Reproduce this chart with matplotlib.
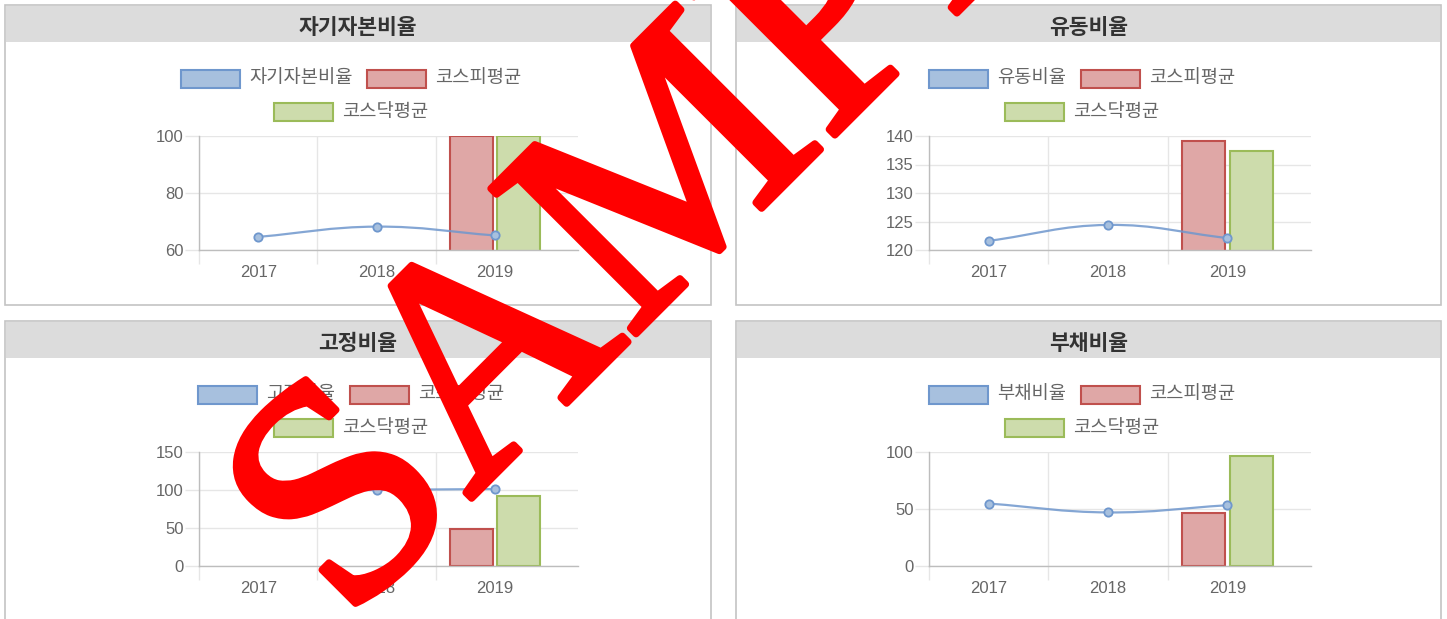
import matplotlib
matplotlib.use('Agg')
import numpy as np
import matplotlib.pyplot as plt
import matplotlib.patheffects as pe
from matplotlib.patches import Rectangle, PathPatch
from matplotlib.path import Path

plt.rcParams['font.family'] = ['Noto Sans CJK KR', 'DejaVu Sans']

# ---- data ----
years = ['2017', '2018', '2019']
kospi_label = '코스피평균'
kosdaq_label = '코스닥평균'

titles = ['자기자본비율', '유동비율', '고정비율', '부채비율']

equity_ratio = [64.6, 68.2, 65.1]
equity_kospi = [np.nan, np.nan, 100.0]
equity_kosdaq = [np.nan, np.nan, 100.0]

current_ratio = [121.6, 124.4, 122.1]
current_kospi = [np.nan, np.nan, 139.1]
current_kosdaq = [np.nan, np.nan, 137.3]

fixed_ratio = [98.0, 100.0, 101.3]
fixed_kospi = [np.nan, np.nan, 49.1]
fixed_kosdaq = [np.nan, np.nan, 92.6]

debt_ratio = [54.8, 47.0, 53.3]
debt_kospi = [np.nan, np.nan, 46.4]
debt_kosdaq = [np.nan, np.nan, 96.2]

y_ticks = [[60, 80, 100], [120, 125, 130, 135, 140], [0, 50, 100, 150], [0, 50, 100]]

# ---- styling ----
W, H = 1447, 619
BLUE, BLUE_FILL = '#6f97cd', '#a7c0de'
RED, RED_FILL = '#c0504d', '#dfa7a6'
GREEN, GREEN_FILL = '#9bbb59', '#cddcac'
GRID = '#e6e6e6'
AXIS = '#bdbdbd'
TXT = '#666666'


def fx(px):
    return px / W


def fy(py):
    return 1 - py / H


def smooth_line(ax, xs, ys, color, tension=0.4):
    # bezier through the points, control points like chart.js splineCurve
    pts = ax.transData.transform(np.column_stack([xs, ys]))
    n = len(pts)
    ctrl = []
    for i in range(n):
        prev, cur, nxt = pts[max(i - 1, 0)], pts[i], pts[min(i + 1, n - 1)]
        d01 = np.hypot(*(cur - prev))
        d12 = np.hypot(*(nxt - cur))
        tot = d01 + d12
        s01 = d01 / tot if tot else 0
        s12 = d12 / tot if tot else 0
        ctrl.append((cur - tension * s01 * (nxt - prev), cur + tension * s12 * (nxt - prev)))
    verts = [pts[0]]
    codes = [Path.MOVETO]
    for i in range(1, n):
        verts += [ctrl[i - 1][1], ctrl[i][0], pts[i]]
        codes += [Path.CURVE4] * 3
    verts = ax.transData.inverted().transform(np.array(verts))
    ax.add_patch(PathPatch(Path(verts, codes), fill=False, edgecolor=color,
                           lw=1.6, alpha=0.85, zorder=4))


fig = plt.figure(figsize=(W / 100, H / 100), dpi=100)
renderer = fig.canvas.get_renderer()

panels = [
    dict(x0=5, x1=711, y0=5, y1=305, ratio=equity_ratio, kospi=equity_kospi, kosdaq=equity_kosdaq),
    dict(x0=736, x1=1441, y0=5, y1=305, ratio=current_ratio, kospi=current_kospi, kosdaq=current_kosdaq),
    dict(x0=5, x1=711, y0=321, y1=640, ratio=fixed_ratio, kospi=fixed_kospi, kosdaq=fixed_kosdaq),
    dict(x0=736, x1=1441, y0=321, y1=640, ratio=debt_ratio, kospi=debt_kospi, kosdaq=debt_kosdaq),
]


def draw_legend(cx, rows):
    for row_y, items in rows:
        texts = []
        for label, face, edge in items:
            t = fig.text(0, fy(row_y), label, fontsize=13.5, color=TXT, va='center', ha='left')
            texts.append(t)
        widths = [t.get_window_extent(renderer).width for t in texts]
        total = sum(60 + 8 + w for w in widths) + 14.5 * (len(items) - 1)
        x = cx - total / 2
        for (label, face, edge), t, w in zip(items, texts, widths):
            fig.patches.append(Rectangle((fx(x), fy(row_y + 9)), 59 / W, 18 / H,
                                         transform=fig.transFigure, facecolor=face,
                                         edgecolor=edge, lw=1.5, zorder=2))
            t.set_position((fx(x + 68), fy(row_y - 1)))
            x += 68 + w + 14.5


for i, p in enumerate(panels):
    x0, x1, y0, y1 = p['x0'], p['x1'], p['y0'], p['y1']
    # panel frame and grey header
    fig.patches.append(Rectangle((fx(x0), fy(y1)), (x1 - x0) / W, (y1 - y0) / H,
                                 transform=fig.transFigure, facecolor='white',
                                 edgecolor='#c4c4c4', lw=1.2, zorder=-2))
    fig.patches.append(Rectangle((fx(x0 + 1), fy(y0 + 37)), (x1 - x0 - 2) / W, 36 / H,
                                 transform=fig.transFigure, facecolor='#dcdcdc',
                                 edgecolor='none', zorder=-1))
    fig.text(fx((x0 + x1) / 2), fy(y0 + 22), titles[i], fontsize=15.5, fontweight='bold',
             color='#333333', ha='center', va='center')

    cx = x0 + 346
    draw_legend(cx, [(y0 + 74, [(titles[i], BLUE_FILL, BLUE), (kospi_label, RED_FILL, RED)]),
                     (y0 + 107, [(kosdaq_label, GREEN_FILL, GREEN)])])

    left = 199 if x0 < 700 else 929
    right = 578 if x0 < 700 else 1311
    top = y0 + 131
    bottom = y0 + 245
    ax = fig.add_axes([fx(left), fy(bottom), (right - left) / W, (bottom - top) / H])
    ax.set_facecolor('none')

    x = np.arange(len(years))
    ticks = y_ticks[i]
    ax.set_xlim(-0.5, 2.7)
    ax.set_ylim(ticks[0], ticks[-1])

    kospi = np.array(p['kospi'])
    kosdaq = np.array(p['kosdaq'])
    m1 = ~np.isnan(kospi)
    m2 = ~np.isnan(kosdaq)
    ax.bar(x[m1] - 0.2, kospi[m1], 0.36, color=RED_FILL, edgecolor=RED, lw=1.5, zorder=2)
    ax.bar(x[m2] + 0.2, kosdaq[m2], 0.36, color=GREEN_FILL, edgecolor=GREEN, lw=1.5, zorder=2)

    smooth_line(ax, x, p['ratio'], BLUE)
    ax.plot(x, p['ratio'], 'o', ms=6, mfc=BLUE_FILL, mec=BLUE, mew=1.3, zorder=5)

    # grid like chart.js
    ax.set_yticks(ticks)
    ax.set_yticklabels([str(t) for t in ticks])
    ax.set_xticks([-0.5, 0.5, 1.5])
    ax.set_xticklabels([])
    ax.set_xticks(x, minor=True)
    ax.set_xticklabels(years, minor=True)
    ax.grid(True, which='major', color=GRID, lw=1, zorder=0)
    ax.tick_params(axis='y', length=10, width=1, color=GRID, pad=1, labelsize=12, labelcolor=TXT)
    ax.tick_params(axis='x', which='major', length=10, width=1, color=GRID)
    ax.tick_params(axis='x', which='minor', length=0, pad=10.5, labelsize=12, labelcolor=TXT)
    ax.xaxis.get_major_ticks()[0].tick1line.set_color(AXIS)
    for lab in ax.get_xticklabels(minor=True) + ax.get_yticklabels():
        lab.set_fontfamily(['Liberation Sans', 'DejaVu Sans'])
    for s in ['top', 'right']:
        ax.spines[s].set_visible(False)
    for s in ['left', 'bottom']:
        ax.spines[s].set_color(AXIS)
        ax.spines[s].set_linewidth(1)

# watermark
fig.text(fx(346), fy(624), 'SAMPLE', fontsize=226, color='#ff0000',
         family=['Liberation Serif', 'DejaVu Serif'], rotation=45,
         rotation_mode='anchor', ha='left', va='baseline', zorder=10,
         path_effects=[pe.withStroke(linewidth=5, foreground='#ff0000')])

fig.savefig('out.png', dpi=100)
